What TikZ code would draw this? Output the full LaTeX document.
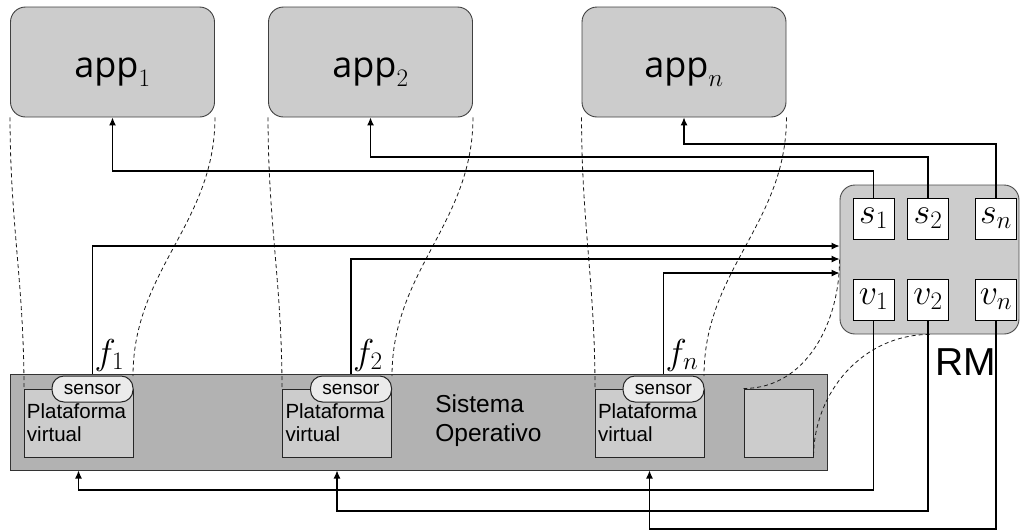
\RequirePackage{fix-cm}
\documentclass[tikz,border=0pt]{standalone}
\usepackage[no-math]{fontspec}
\setmainfont{Liberation Sans}
\newfontfamily\appfont{Open Sans}
\usetikzlibrary{arrows.meta,calc}
\tikzset{
  appbox/.style={draw=black!75, fill=black!20, rounded corners=15pt, minimum width=204pt, minimum height=110pt, line width=0.9pt, inner sep=0pt, text height=40pt, text depth=10pt, font=\fontsize{36}{40}\selectfont},
  osbox/.style={draw=black!80, fill=black!30, line width=1pt, minimum width=817pt, minimum height=96pt, inner sep=0pt},
  platbox/.style={draw=black!85, fill=black!20, line width=1pt, text width=103pt, inner xsep=3pt, inner ysep=0pt, minimum height=68pt, align=left, font=\fontsize{20.5}{23}\selectfont},
  sensorbox/.style={draw=black!85, fill=black!8, line width=1pt, rounded corners=12pt, minimum width=81pt, minimum height=26pt, inner sep=0pt, font=\fontsize{19}{21}\selectfont},
  smallbox/.style={draw=black!85, fill=black!20, line width=1pt, minimum width=69pt, minimum height=68pt, inner sep=0pt},
  rmbox/.style={draw=black!70, fill=black!20, rounded corners=15pt, minimum width=179pt, minimum height=149pt, line width=0.9pt, inner sep=0pt},
  svbox/.style={draw=black, fill=white, minimum size=41pt, inner sep=0pt, line width=1pt, font=\fontsize{36}{40}\selectfont},
  conn/.style={line width=1.1pt, black},
  arr/.style={conn, -{Latex[length=8pt,width=7pt]}},
  dashline/.style={dash pattern=on 4pt off 3pt, line width=0.8pt, black!90},
  flabel/.style={inner sep=0pt, font=\fontsize{36}{40}\selectfont},
}
\begin{document}
\begin{tikzpicture}[x=1pt,y=-1pt]
\useasboundingbox (0,0) rectangle (1020,531);
% application boxes
\node[appbox] (app1) at (112.5,62) {$\hbox{\appfont app}_1$};
\node[appbox] (app2) at (370.5,62) {$\hbox{\appfont app}_2$};
\node[appbox] (appn) at (684,62) {$\hbox{\appfont app}_n$};
% operating system
\node[osbox] (os) at (418.5,422) {};
\node[inner sep=0pt, align=left, font=\fontsize{24.5}{29}\selectfont] (sotext) at (488.5,421) {Sistema\\Operativo};
% resource manager
\node[rmbox] (rm) at (929.5,259.5) {};
\node[inner sep=0pt, anchor=base, font=\fontsize{39}{42}\selectfont] (rmlabel) at (966,375) {RM};
% dashed correspondences
\draw[dashline] (app1.south west) to[out=-90,in=90] (24,389);
\draw[dashline] (app1.south east) to[out=-90,in=90] (133,376);
\draw[dashline] (app2.south west) to[out=-90,in=90] (282,389);
\draw[dashline] (app2.south east) to[out=-90,in=90] (392,376);
\draw[dashline] (appn.south west) to[out=-90,in=90] (595,389);
\draw[dashline] (appn.south east) to[out=-90,in=90] (704,376);
% platforms
\node[platbox] (plat1) at (78.5,423) {Plataforma\\virtual};
\node[sensorbox] (sensor1) at (92.5,389) {sensor};
\node[platbox] (plat2) at (337,423) {Plataforma\\virtual};
\node[sensorbox] (sensor2) at (351,389) {sensor};
\node[platbox] (platn) at (649.5,423) {Plataforma\\virtual};
\node[sensorbox] (sensorn) at (663.5,389) {sensor};
\node[smallbox] (small) at (778.5,423) {};
\draw[dashline] (rm.west) to[out=-90,in=0] (small.north west);
\draw[dashline] (rm.south) to[out=180,in=90] (small.south east);
% s and v boxes
\node[svbox] (s1) at (873.5,218.5) {$s_1$};
\node[svbox] (s2) at (928,218.5) {$s_2$};
\node[svbox] (sn) at (996,218.5) {$s_n$};
\node[svbox] (v1) at (873.5,299.5) {$v_1$};
\node[svbox] (v2) at (928,299.5) {$v_2$};
\node[svbox] (vn) at (996,299.5) {$v_n$};
% bend levels
\coordinate (ya1) at (0,171);
\coordinate (ya2) at (0,157);
\coordinate (yan) at (0,144);
\coordinate (yf1) at (0,246);
\coordinate (yf2) at (0,259);
\coordinate (yfn) at (0,273);
\coordinate (yv1) at (0,490);
\coordinate (yv2) at (0,511);
\coordinate (yvn) at (0,529);
% s -> app
\draw[arr] (s1.north) -- (s1.north |- ya1) -| (app1.south);
\draw[arr] (s2.north) -- (s2.north |- ya2) -| (app2.south);
\draw[arr] (sn.north) -- (sn.north |- yan) -| (appn.south);
% f -> RM
\draw[arr] (sensor1 |- os.north) -- (sensor1 |- yf1) -- (rm.west |- yf1);
\draw[arr] (sensor2 |- os.north) -- (sensor2 |- yf2) -- (rm.west |- yf2);
\draw[arr] (sensorn |- os.north) -- (sensorn |- yfn) -- (rm.west |- yfn);
\node[flabel, anchor=base west] (f1) at ($(sensor1 |- os.north)+(2,-9)$) {$f_1$};
\node[flabel, anchor=base west] (f2) at ($(sensor2 |- os.north)+(2,-9)$) {$f_2$};
\node[flabel, anchor=base west] (fn) at ($(sensorn |- os.north)+(2,-9)$) {$f_n$};
% v -> platforms
\draw[arr] (v1.south) -- (v1.south |- yv1) -| (plat1 |- os.south);
\draw[arr] (v2.south) -- (v2.south |- yv2) -| (plat2 |- os.south);
\draw[arr] (vn.south) -- (vn.south |- yvn) -| (platn |- os.south);
\end{tikzpicture}
\end{document}
